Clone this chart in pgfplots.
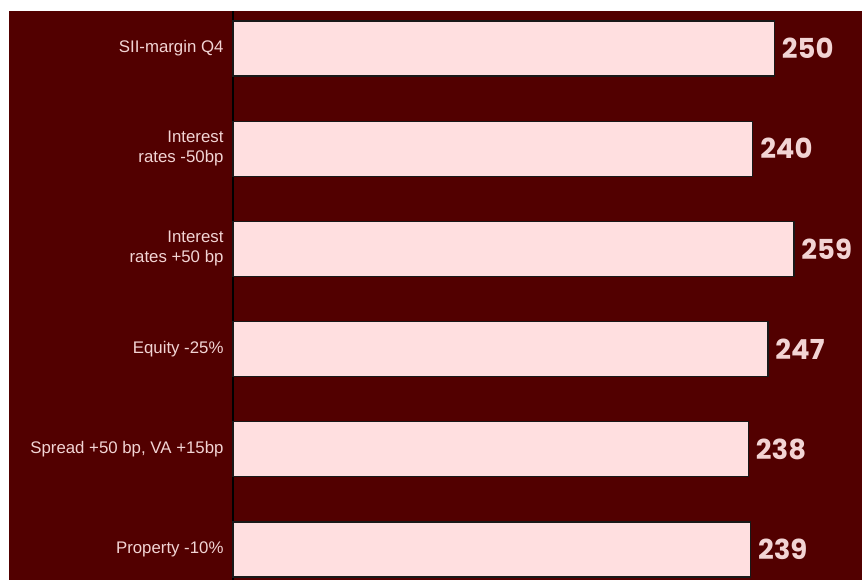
\documentclass[border=0pt]{standalone}
\usepackage{pgfplots}
\pgfplotsset{compat=1.18}
\usepackage{fontspec}
\setmainfont{Liberation Sans}
\newfontfamily\valfont{Poppins}

\definecolor{bg}{HTML}{520000}
\definecolor{barfill}{HTML}{FFDFE0}
\definecolor{lbl}{HTML}{F2D4D4}

\begin{document}
\begin{tikzpicture}
\fill[white] (0,0) rectangle (862pt,580pt);
\fill[bg] (9pt,0) rectangle (862pt,569pt);
\begin{axis}[
    at={(233pt,0pt)}, anchor=south west,
    scale only axis,
    width=629pt, height=569pt,
    xmin=0, xmax=290.4,
    ymin=-0.304, ymax=5.374,
    axis x line=none,
    axis y line*=left,
    y axis line style={black, line width=1.2pt},
    ytick={0,...,5},
    yticklabels={Property -10\%, {Spread +50 bp, VA +15bp}, Equity -25\%,
        {Interest\\rates +50 bp}, {Interest\\rates -50bp}, SII-margin Q4},
    yticklabel style={font=\fontsize{16.8}{20}\selectfont, text=lbl, align=right, xshift=-6pt},
    major tick length=0pt,
    /pgf/number format/assume math mode=true,
    xbar,
    bar width=55pt,
    clip=false,
]
\addplot[draw=black!90, fill=barfill, line width=1.2pt,
    nodes near coords,
    nodes near coords style={font=\valfont\bfseries\fontsize{27.5}{27.5}\selectfont, text=lbl, anchor=west, xshift=3.5pt}]
coordinates {
(239,0)
(238,1)
(247,2)
(259,3)
(240,4)
(250,5)
};
\end{axis}
\end{tikzpicture}
\end{document}
